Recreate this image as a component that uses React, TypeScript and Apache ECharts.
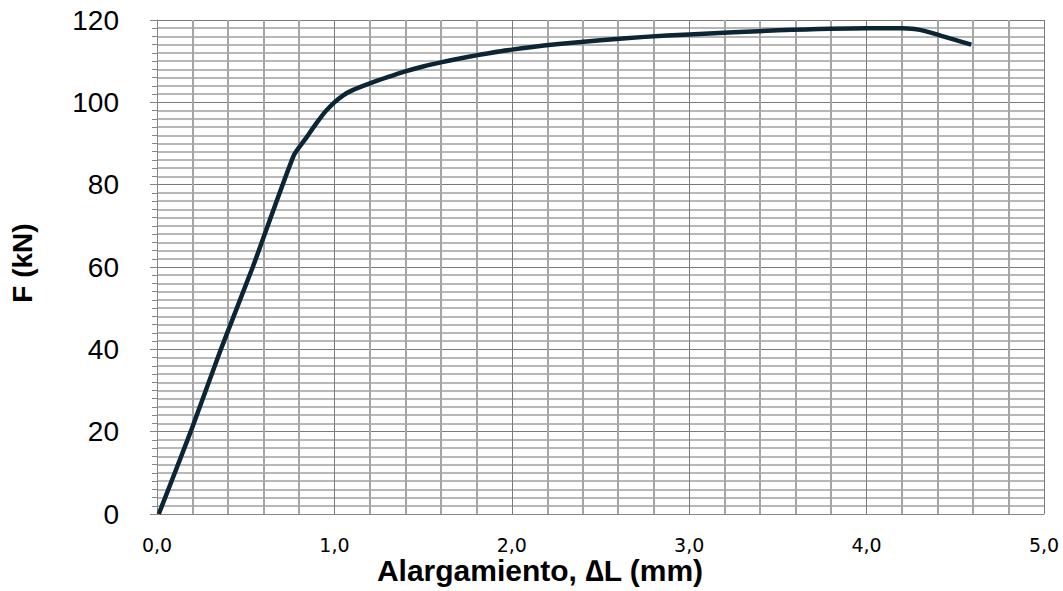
import React, { useEffect, useRef } from "react";
import * as echarts from "echarts";

const elongation = [0.01, 0.19, 0.36, 0.54, 0.77, 0.84, 0.9, 0.95, 1.0, 1.05, 1.1, 1.2, 1.3, 1.4, 1.5, 1.6, 1.7, 1.8, 2.0, 2.25, 2.5, 2.75, 3.0, 3.5, 4.0, 4.2, 4.27, 4.33, 4.59];
const force = [0, 20, 40, 60, 87, 91.3, 95, 97.8, 100, 101.7, 102.9, 104.6, 106.1, 107.5, 108.7, 109.7, 110.6, 111.4, 112.8, 114.1, 115.1, 115.9, 116.5, 117.5, 118, 118, 117.8, 117.3, 114];
const xTitle = "Alargamiento, \u2206L (mm)";
const yTitle = "F (kN)";

export default function App() {
  const ref = useRef<HTMLDivElement>(null);
  useEffect(() => {
    if (!ref.current) return;
    const chart = echarts.init(ref.current, null, { renderer: "svg" });
    const data = elongation.map((x, i) => [x, force[i]]);
    chart.setOption({
      animation: false,
      backgroundColor: "#ffffff",
      grid: { left: 157, right: 19, top: 20, bottom: 77, containLabel: false },
      xAxis: {
        type: "value",
        min: 0,
        max: 5,
        interval: 1,
        axisLine: { show: true, lineStyle: { color: "#868686", width: 1 } },
        axisTick: { show: false },
        minorTick: { show: false, splitNumber: 5 },
        splitLine: { show: true, lineStyle: { color: "#7a7a7a", width: 1 } },
        minorSplitLine: { show: true, lineStyle: { color: "#a6a6a6", width: 2 } },
        axisLabel: {
          margin: 21,
          fontFamily: "DejaVu Sans",
          fontSize: 19,
          color: "#000",
          formatter: (v: number) => v.toFixed(1).replace(".", ","),
        },
      },
      yAxis: {
        type: "value",
        min: 0,
        max: 120,
        interval: 20,
        axisLine: { show: true, lineStyle: { color: "#868686", width: 1 } },
        axisTick: { show: true, length: 7, lineStyle: { color: "#868686" } },
        minorTick: { show: true, splitNumber: 10, length: 5, lineStyle: { color: "#868686" } },
        splitLine: { show: true, lineStyle: { color: "#7a7a7a", width: 1 } },
        minorSplitLine: { show: true, lineStyle: { color: "#b8b8b8", width: 2 } },
        axisLabel: {
          margin: 38,
          fontFamily: "Liberation Sans, Arial",
          fontSize: 28,
          color: "#000",
        },
      },
      graphic: [
        {
          type: "text",
          x: 540,
          y: 570,
          style: {
            text: xTitle,
            fontFamily: "Liberation Sans, Arial",
            fontWeight: "bold",
            fontSize: 30,
            fill: "#000",
            align: "center",
            verticalAlign: "middle",
          },
        },
        {
          type: "text",
          x: 22,
          y: 263,
          rotation: Math.PI / 2,
          style: {
            text: yTitle,
            fontFamily: "Liberation Sans, Arial",
            fontWeight: "bold",
            fontSize: 28,
            fill: "#000",
            align: "center",
            verticalAlign: "middle",
          },
        },
      ],
      series: [
        {
          type: "line",
          data,
          showSymbol: false,
          smooth: 0.2,
          lineStyle: { color: "#0b2535", width: 4.5 },
        },
      ],
    });
    return () => chart.dispose();
  }, []);
  return (
    <div
      ref={ref}
      style={{ position: "fixed", left: 0, top: 0, width: 1063, height: 591 }}
    />
  );
}
